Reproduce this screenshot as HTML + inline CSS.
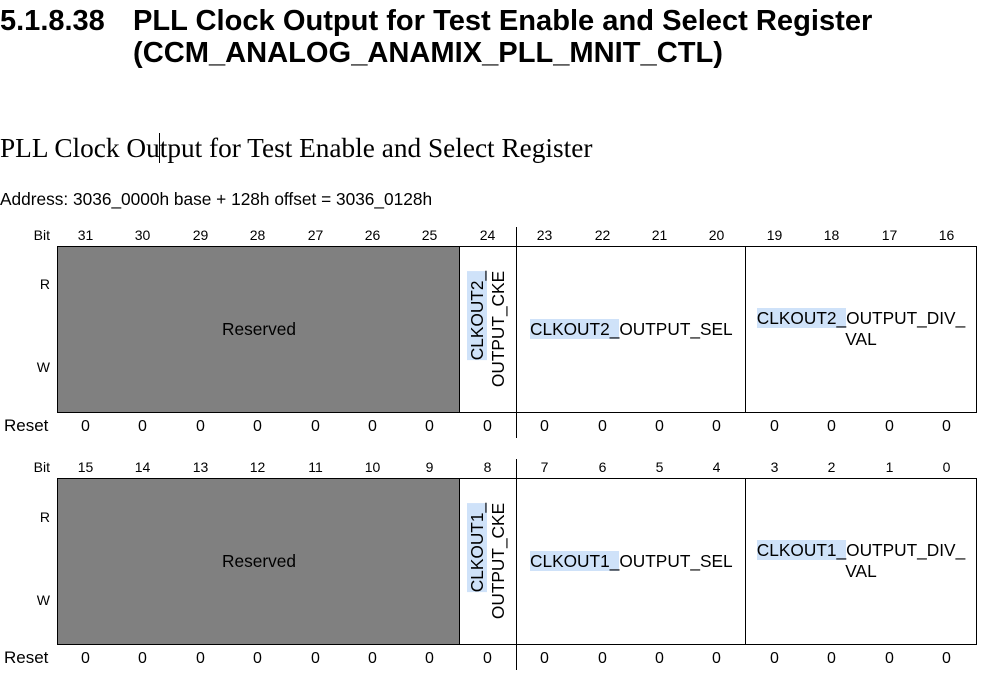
<!DOCTYPE html><html><head><style>
body{margin:0;width:999px;height:681px;background:#fff;position:relative;overflow:hidden;font-family:"Liberation Sans",sans-serif;color:#000}
.a{position:absolute;white-space:nowrap}
.n{position:absolute;width:57px;text-align:center;font-size:14px}
.r{position:absolute;width:57px;text-align:center;font-size:16px}
.hl{background:#cfe2f9}
.box{position:absolute;border:1px solid #000;box-sizing:border-box}
.vl{position:absolute;width:1px;background:#000}
.lab{position:absolute;font-size:14px;width:50px;left:0;text-align:right}
.f{font-size:17.3px}
</style></head><body>
<div class="a" style="left:0;top:5px;font-size:29px;font-weight:bold;line-height:32px">5.1.8.38</div>
<div class="a" style="left:133px;top:5px;font-size:29.1px;font-weight:bold;line-height:32px">PLL Clock Output for Test Enable and Select Register<br>(CCM_ANALOG_ANAMIX_PLL_MNIT_CTL)</div>
<div class="a" style="left:0;top:133px;font-family:'Liberation Serif',serif;font-size:27.3px">PLL Clock Ou<span style="border-left:1px solid #000;margin-left:-1px"></span>tput for Test Enable and Select Register</div>
<div class="a" style="left:0;top:189px;font-size:17.3px">Address: 3036_0000h base + 128h offset = 3036_0128h</div>

<div class="lab" style="top:227px">Bit</div>
<div class="n" style="left:57px;top:227px">31</div><div class="n" style="left:114px;top:227px">30</div><div class="n" style="left:172px;top:227px">29</div><div class="n" style="left:229px;top:227px">28</div><div class="n" style="left:287px;top:227px">27</div><div class="n" style="left:344px;top:227px">26</div><div class="n" style="left:401px;top:227px">25</div><div class="n" style="left:459px;top:227px">24</div><div class="n" style="left:516px;top:227px">23</div><div class="n" style="left:574px;top:227px">22</div><div class="n" style="left:631px;top:227px">21</div><div class="n" style="left:688px;top:227px">20</div><div class="n" style="left:746px;top:227px">19</div><div class="n" style="left:803px;top:227px">18</div><div class="n" style="left:861px;top:227px">17</div><div class="n" style="left:918px;top:227px">16</div>
<div class="vl" style="left:516px;top:227px;height:19px"></div>
<div class="lab" style="top:276px">R</div><div class="lab" style="top:359px">W</div>
<div class="box" style="left:57px;top:246px;width:403px;height:167px;background:#808080"></div>
<div class="a f" style="left:222px;top:319px">Reserved</div>
<div class="box" style="left:459px;top:246px;width:518px;height:167px"></div>
<div class="vl" style="left:516px;top:246px;height:167px"></div>
<div class="vl" style="left:745px;top:246px;height:167px"></div>
<div class="a f" style="left:488px;top:329px;transform:translate(-50%,-50%) rotate(-90deg);line-height:21px;text-align:right"><span class="hl">CLKOUT2_</span><br>OUTPUT_CKE</div>
<div class="a f" style="left:530px;top:319px"><span class="hl">CLKOUT2_</span>OUTPUT_SEL</div>
<div class="a f" style="left:746px;top:308px;width:230px;text-align:center;line-height:21px"><span class="hl">CLKOUT2_</span>OUTPUT_DIV_<br>VAL</div>
<div class="a" style="left:4px;top:416px;font-size:17px">Reset</div>
<div class="r" style="left:57px;top:418px">0</div><div class="r" style="left:114px;top:418px">0</div><div class="r" style="left:172px;top:418px">0</div><div class="r" style="left:229px;top:418px">0</div><div class="r" style="left:287px;top:418px">0</div><div class="r" style="left:344px;top:418px">0</div><div class="r" style="left:401px;top:418px">0</div><div class="r" style="left:459px;top:418px">0</div><div class="r" style="left:516px;top:418px">0</div><div class="r" style="left:574px;top:418px">0</div><div class="r" style="left:631px;top:418px">0</div><div class="r" style="left:688px;top:418px">0</div><div class="r" style="left:746px;top:418px">0</div><div class="r" style="left:803px;top:418px">0</div><div class="r" style="left:861px;top:418px">0</div><div class="r" style="left:918px;top:418px">0</div>
<div class="vl" style="left:516px;top:413px;height:25px"></div>

<div class="lab" style="top:459px">Bit</div>
<div class="n" style="left:57px;top:459px">15</div><div class="n" style="left:114px;top:459px">14</div><div class="n" style="left:172px;top:459px">13</div><div class="n" style="left:229px;top:459px">12</div><div class="n" style="left:287px;top:459px">11</div><div class="n" style="left:344px;top:459px">10</div><div class="n" style="left:401px;top:459px">9</div><div class="n" style="left:459px;top:459px">8</div><div class="n" style="left:516px;top:459px">7</div><div class="n" style="left:574px;top:459px">6</div><div class="n" style="left:631px;top:459px">5</div><div class="n" style="left:688px;top:459px">4</div><div class="n" style="left:746px;top:459px">3</div><div class="n" style="left:803px;top:459px">2</div><div class="n" style="left:861px;top:459px">1</div><div class="n" style="left:918px;top:459px">0</div>
<div class="vl" style="left:516px;top:459px;height:19px"></div>
<div class="lab" style="top:509px">R</div><div class="lab" style="top:592px">W</div>
<div class="box" style="left:57px;top:478px;width:403px;height:167px;background:#808080"></div>
<div class="a f" style="left:222px;top:551px">Reserved</div>
<div class="box" style="left:459px;top:478px;width:518px;height:167px"></div>
<div class="vl" style="left:516px;top:478px;height:167px"></div>
<div class="vl" style="left:745px;top:478px;height:167px"></div>
<div class="a f" style="left:488px;top:561px;transform:translate(-50%,-50%) rotate(-90deg);line-height:21px;text-align:right"><span class="hl">CLKOUT1_</span><br>OUTPUT_CKE</div>
<div class="a f" style="left:530px;top:551px"><span class="hl">CLKOUT1_</span>OUTPUT_SEL</div>
<div class="a f" style="left:746px;top:540px;width:230px;text-align:center;line-height:21px"><span class="hl">CLKOUT1_</span>OUTPUT_DIV_<br>VAL</div>
<div class="a" style="left:4px;top:648px;font-size:17px">Reset</div>
<div class="r" style="left:57px;top:650px">0</div><div class="r" style="left:114px;top:650px">0</div><div class="r" style="left:172px;top:650px">0</div><div class="r" style="left:229px;top:650px">0</div><div class="r" style="left:287px;top:650px">0</div><div class="r" style="left:344px;top:650px">0</div><div class="r" style="left:401px;top:650px">0</div><div class="r" style="left:459px;top:650px">0</div><div class="r" style="left:516px;top:650px">0</div><div class="r" style="left:574px;top:650px">0</div><div class="r" style="left:631px;top:650px">0</div><div class="r" style="left:688px;top:650px">0</div><div class="r" style="left:746px;top:650px">0</div><div class="r" style="left:803px;top:650px">0</div><div class="r" style="left:861px;top:650px">0</div><div class="r" style="left:918px;top:650px">0</div>
<div class="vl" style="left:516px;top:645px;height:25px"></div>
</body></html>
